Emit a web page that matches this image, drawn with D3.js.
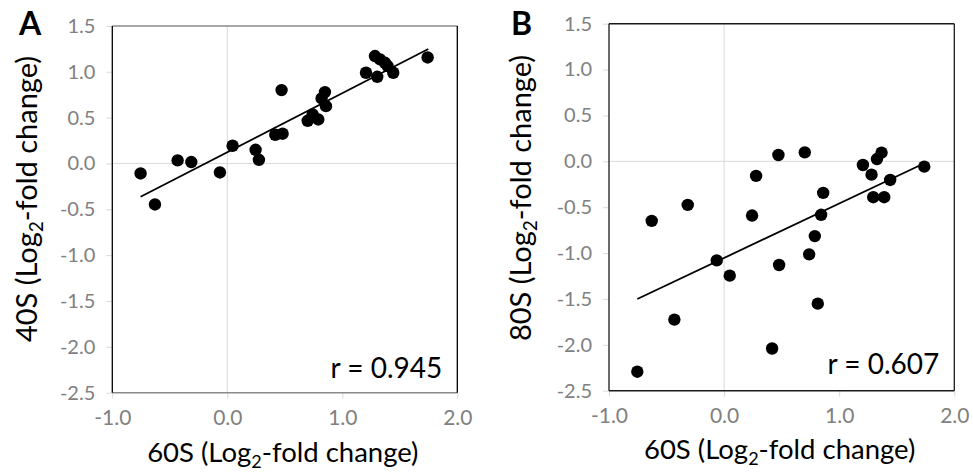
<!DOCTYPE html>
<html>
<head>
<meta charset="utf-8">
<script src="https://cdn.jsdelivr.net/npm/d3@7"></script>
<style>
  html, body { margin: 0; padding: 0; background: #fff; }
  svg { display: block; font-family: Lato, "Open Sans", sans-serif; }
</style>
</head>
<body>
<svg id="chart" width="973" height="475"></svg>
<script>
// ---- data ----
const xTicks = [-1.0, 0.0, 1.0, 2.0];
const xTickLabels = ["-1.0", "0.0", "1.0", "2.0"];
const yTicks = [-2.5, -2.0, -1.5, -1.0, -0.5, 0.0, 0.5, 1.0, 1.5];
const yTickLabels = ["-2.5", "-2.0", "-1.5", "-1.0", "-0.5", "0.0", "0.5", "1.0", "1.5"];

// Panel A: 60S vs 40S
const xA = [-0.754, -0.629, -0.432, -0.313, -0.064, 0.046, 0.246, 0.275, 0.417, 0.481, 0.472,
            0.699, 0.742, 0.791, 0.820, 0.849, 0.858, 1.206, 1.284, 1.304, 1.328, 1.371, 1.394, 1.443, 1.742];
const yA = [-0.109, -0.447, 0.033, 0.015, -0.098, 0.193, 0.149, 0.040, 0.313, 0.324, 0.800,
            0.465, 0.535, 0.480, 0.709, 0.778, 0.625, 0.989, 1.171, 0.945, 1.135, 1.098, 1.062, 0.989, 1.156];
const trendA = { x0: -0.754, x1: 1.748, slope: 0.644, intercept: 0.122 };
const rA = "r = 0.945";

// Panel B: 60S vs 80S
const xB = [-0.629, -0.316, 0.278, 0.243, 0.472, 0.701, 0.861, 0.843, 0.788, 1.206, 1.281, 1.328,
            1.368, 1.296, 1.391, 1.443, 1.739, 0.739, 0.478, -0.064, 0.049, 0.814, -0.432, 0.417, -0.754];
const yB = [-0.649, -0.475, -0.159, -0.591, 0.069, 0.098, -0.344, -0.583, -0.815, -0.040, -0.145, 0.025,
            0.094, -0.391, -0.391, -0.203, -0.058, -1.014, -1.130, -1.080, -1.246, -1.551, -1.725, -2.040, -2.293];
const trendB = { x0: -0.754, x1: 1.74, slope: 0.593, intercept: -1.053 };
const rB = "r = 0.607";

const panels = [
  { letter: "A", yName: "40S", xs: xA, ys: yA, trend: trendA, r: rA,
    left: 112.3, right: 457.3, top: 25.9, bottom: 392.7,
    letterX: 19, letterY: 35, yTitleX: 37, yTitleY: 199, xTitleY: 462, rBase: 378,
    borderTB: "#8a8a8a", borderLR: "#000" },
  { letter: "B", yName: "80S", xs: xB, ys: yB, trend: trendB, r: rB,
    left: 609, right: 954.3, top: 23.7, bottom: 390.7,
    letterX: 511, letterY: 35, yTitleX: 531, yTitleY: 198, xTitleY: 459, rBase: 374,
    borderTB: "#1a1a1a", borderLR: "#1a1a1a" }
];

const svg = d3.select("#chart");

function titleText(sel, prefix, size) {
  sel.append("tspan").text(prefix + " (Log");
  sel.append("tspan").attr("font-size", Math.round(size * 0.66)).attr("dy", size * 0.22).text("2");
  sel.append("tspan").attr("dy", -size * 0.22).text("-fold change)");
}

panels.forEach(p => {
  const x = d3.scaleLinear().domain([-1, 2]).range([p.left, p.right]);
  const y = d3.scaleLinear().domain([-2.5, 1.5]).range([p.bottom, p.top]);
  const g = svg.append("g");

  // gridlines at zero
  g.append("line").attr("x1", x(0)).attr("x2", x(0)).attr("y1", y(1.5)).attr("y2", y(-2.5))
    .attr("stroke", "#d9d9d9").attr("stroke-width", 1);
  g.append("line").attr("x1", x(-1)).attr("x2", x(2)).attr("y1", y(0)).attr("y2", y(0))
    .attr("stroke", "#d9d9d9").attr("stroke-width", 1);

  // y axis
  const yAxis = d3.axisLeft(y).tickValues(yTicks).tickSize(6).tickPadding(11)
    .tickFormat((d, i) => yTickLabels[i]);
  const ya = g.append("g").attr("transform", `translate(${p.left},0)`).call(yAxis);
  ya.select(".domain").remove();
  ya.selectAll(".tick line").attr("stroke", "#d9d9d9");
  ya.selectAll(".tick text").attr("fill", "#808080").attr("font-size", 20)
    .attr("font-family", "Lato, sans-serif");

  // x axis
  const xAxis = d3.axisBottom(x).tickValues(xTicks).tickSize(6).tickPadding(11)
    .tickFormat((d, i) => xTickLabels[i]);
  const xa = g.append("g").attr("transform", `translate(0,${p.bottom})`).call(xAxis);
  xa.select(".domain").remove();
  xa.selectAll(".tick line").attr("stroke", "#d9d9d9");
  xa.selectAll(".tick text").attr("fill", "#808080").attr("font-size", 21)
    .attr("font-family", "Lato, sans-serif");

  // border
  g.append("line").attr("x1", x(-1)).attr("x2", x(2)).attr("y1", y(1.5)).attr("y2", y(1.5))
    .attr("stroke", p.borderTB).attr("stroke-width", 1.5);
  g.append("line").attr("x1", x(-1)).attr("x2", x(2)).attr("y1", y(-2.5)).attr("y2", y(-2.5))
    .attr("stroke", p.borderTB).attr("stroke-width", 1.5);
  g.append("line").attr("x1", x(-1)).attr("x2", x(-1)).attr("y1", y(1.5)).attr("y2", y(-2.5))
    .attr("stroke", p.borderLR).attr("stroke-width", 1.3);
  g.append("line").attr("x1", x(2)).attr("x2", x(2)).attr("y1", y(1.5)).attr("y2", y(-2.5))
    .attr("stroke", p.borderLR).attr("stroke-width", 1.3);

  // trend line
  const t = p.trend;
  g.append("line")
    .attr("x1", x(t.x0)).attr("y1", y(t.intercept + t.slope * t.x0))
    .attr("x2", x(t.x1)).attr("y2", y(t.intercept + t.slope * t.x1))
    .attr("stroke", "#000").attr("stroke-width", 1.8);

  // points
  g.selectAll("circle.pt").data(p.xs.map((v, i) => [v, p.ys[i]])).join("circle")
    .attr("class", "pt")
    .attr("cx", d => x(d[0])).attr("cy", d => y(d[1])).attr("r", 6.2).attr("fill", "#000");

  // r label
  g.append("text").attr("x", p.right - 15).attr("y", p.rBase).attr("text-anchor", "end")
    .attr("font-size", 28).attr("fill", "#000").text(p.r);

  // x title
  const xt = g.append("text").attr("x", (p.left + p.right) / 2 - 2).attr("y", p.xTitleY)
    .attr("text-anchor", "middle").attr("font-size", 27.5).attr("fill", "#000");
  titleText(xt, "60S", 27.5);

  // y title
  const yt = g.append("text")
    .attr("transform", `translate(${p.yTitleX},${p.yTitleY}) rotate(-90)`)
    .attr("text-anchor", "middle").attr("font-size", 29).attr("fill", "#000");
  titleText(yt, p.yName, 29);

  // panel letter
  g.append("text").attr("x", p.letterX).attr("y", p.letterY)
    .attr("font-size", 32).attr("font-weight", "bold").attr("fill", "#000").text(p.letter);
});
</script>
</body>
</html>
